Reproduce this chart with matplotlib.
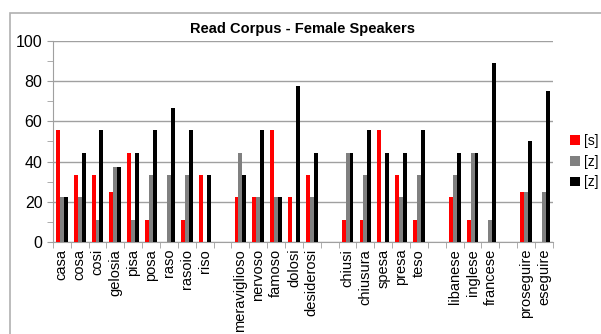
import numpy as np
import matplotlib.pyplot as plt
from matplotlib.patches import Rectangle

plt.rcParams['font.family'] = ['Liberation Sans', 'DejaVu Sans']

words = ['casa', 'cosa', 'cosi', 'gelosia', 'pisa', 'posa', 'raso', 'rasoio', 'riso', '',
         'meraviglioso', 'nervoso', 'famoso', 'dolosi', 'desiderosi', '',
         'chiusi', 'chiusura', 'spesa', 'presa', 'teso', '',
         'libanese', 'inglese', 'francese', '',
         'proseguire', 'eseguire']
s_vals = [55.6, 33.3, 33.3, 25.0, 44.4, 11.1, 0, 11.1, 33.3, 0,
          22.2, 22.2, 55.6, 22.2, 33.3, 0,
          11.1, 11.1, 55.6, 33.3, 11.1, 0,
          22.2, 11.1, 0, 0,
          25.0, 0]
z_vals = [22.2, 22.2, 11.1, 37.5, 11.1, 33.3, 33.3, 33.3, 0, 0,
          44.4, 22.2, 22.2, 0, 22.2, 0,
          44.4, 33.3, 0, 22.2, 33.3, 0,
          33.3, 44.4, 11.1, 0,
          25.0, 25.0]
zh_vals = [22.2, 44.4, 55.6, 37.5, 44.4, 55.6, 66.7, 55.6, 33.3, 0,
           33.3, 55.6, 22.2, 77.8, 44.4, 0,
           44.4, 55.6, 44.4, 44.4, 55.6, 0,
           44.4, 44.4, 88.9, 0,
           50.0, 75.0]
series_names = ['[s]', '[z]', '[z]']

fig = plt.figure(figsize=(6.01, 3.34), dpi=100)
fig.patches.append(Rectangle((10 / 601, -0.05), 1.0, 1 - 13 / 334 + 0.05,
                             transform=fig.transFigure, fill=False,
                             edgecolor='#b0b0b0', linewidth=1.2))
ax = fig.add_axes([0.088, 0.276, 0.832, 0.601])

x = np.arange(len(words))
w = 0.22
ax.bar(x - w, s_vals, w, color='#ff0000', label=series_names[0], zorder=3)
ax.bar(x, z_vals, w, color='#808080', label=series_names[1], zorder=3)
ax.bar(x + w, zh_vals, w, color='#000000', label=series_names[2], zorder=3)

ax.set_xlim(-0.5, len(words) - 0.5)
ax.set_ylim(0, 100)
ax.set_yticks(range(0, 101, 20))
ax.set_yticks(range(10, 100, 20), minor=True)
ax.yaxis.grid(True, color='#a0a0a0', linewidth=1, zorder=0)
ax.set_xticks(x)
ax.set_xticklabels(words, rotation=90, fontsize=10.5)
ax.set_xticks(np.arange(-0.5, len(words), 1), minor=True)
ax.tick_params(axis='x', which='major', length=0, pad=5)
ax.tick_params(axis='x', which='minor', length=4, color='#a0a0a0')
ax.tick_params(axis='y', which='both', length=4, color='#a0a0a0', labelsize=11.5)
for side in ['top', 'right']:
    ax.spines[side].set_visible(False)
for side in ['left', 'bottom']:
    ax.spines[side].set_color('#a0a0a0')

ax.set_title('Read Corpus - Female Speakers', fontsize=10.5, fontweight='bold', pad=6)
ax.legend(loc='center left', bbox_to_anchor=(1.01, 0.4), frameon=False,
          fontsize=10, handlelength=0.7, handleheight=0.7, handletextpad=0.3,
          labelspacing=0.5)

fig.savefig('out.png', dpi=100)
